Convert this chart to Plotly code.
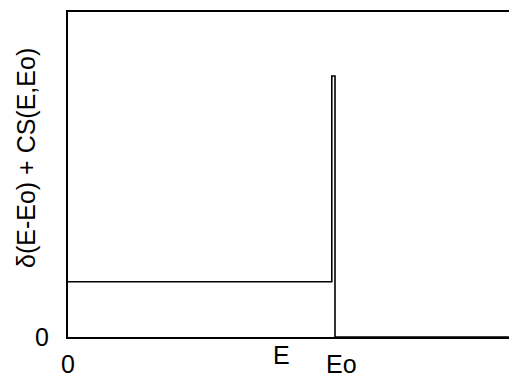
import plotly.graph_objects as go

# Step-like spectrum: continuum level + delta spike at Eo
energy = [0.0, 0.988, 0.988, 1.0, 1.0, 1.66]
signal = [0.17, 0.17, 0.803, 0.803, 0.0, 0.0]

x_tick_vals = [0.0, 1.0]
x_tick_text = ["0", "Eo"]
y_tick_vals = [0.0]
y_tick_text = ["0"]
x_title = "E"
y_title = "δ(E-Eo) + CS(E,Eo)"

FONT = "Liberation Sans, Arial, sans-serif"
FS = 25
W, H = 509, 373
L, T, R, B = 68, 12, 0, 36

fig = go.Figure()
fig.add_trace(go.Scatter(x=energy, y=signal, mode="lines",
                         line=dict(color="black", width=1.6), hoverinfo="skip"))

annotations = []
for v, t in zip(x_tick_vals, x_tick_text):
    annotations.append(dict(x=v, y=0, xref="x", yref="paper", text=t, showarrow=False,
                            xanchor="center", yanchor="top", yshift=-11,
                            xshift=6 if t != "0" else 0,
                            font=dict(family=FONT, size=FS, color="black")))
for v, t in zip(y_tick_vals, y_tick_text):
    annotations.append(dict(x=0, y=v, xref="paper", yref="y", text=t, showarrow=False,
                            xanchor="right", yanchor="middle", xshift=-17,
                            font=dict(family=FONT, size=FS, color="black")))
annotations.append(dict(x=0.8, y=0, xref="x", yref="paper", text=x_title, showarrow=False,
                        xanchor="center", yanchor="top", yshift=-2,
                        font=dict(family=FONT, size=FS, color="black")))
annotations.append(dict(x=(26 - L) / (W - L - R), y=(H - B - 158) / (H - T - B),
                        xref="paper", yref="paper", text=y_title, showarrow=False,
                        textangle=-90, xanchor="center", yanchor="middle",
                        font=dict(family=FONT, size=FS, color="black")))

fig.update_layout(
    width=W, height=H,
    margin=dict(l=L, r=R, t=T, b=B),
    paper_bgcolor="white", plot_bgcolor="white",
    showlegend=False,
    annotations=annotations,
    xaxis=dict(range=[0, (W - L - R) / 267.0], showgrid=False, zeroline=False,
               showticklabels=False, ticks="", showline=True, linecolor="black",
               linewidth=2, mirror=True),
    yaxis=dict(range=[0, 1], showgrid=False, zeroline=False, showticklabels=False,
               ticks="", showline=True, linecolor="black", linewidth=2, mirror=False),
)

fig.write_html("out.html")
